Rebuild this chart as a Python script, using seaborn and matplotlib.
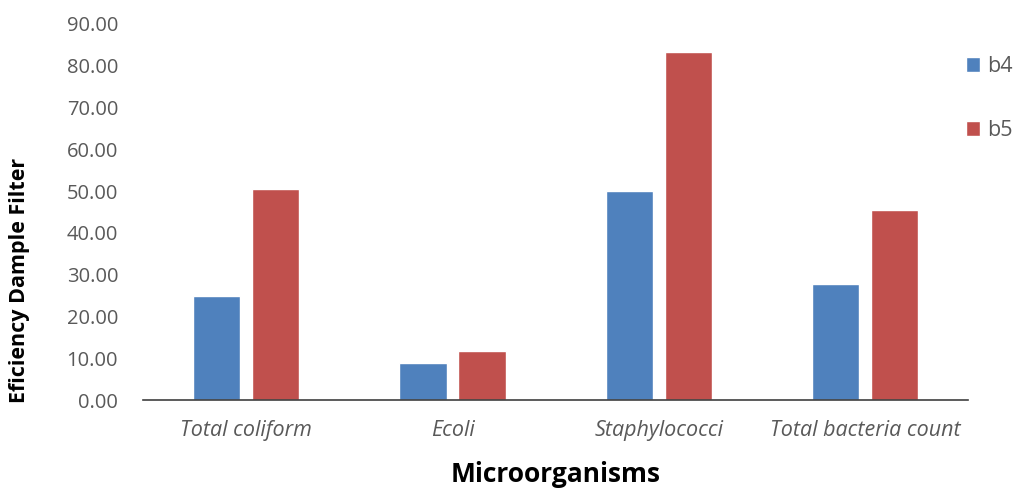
import matplotlib
matplotlib.use("Agg")
import matplotlib.pyplot as plt
import matplotlib.transforms as mtransforms
import seaborn as sns
import pandas as pd

categories = ["Total coliform", "Ecoli", "Staphylococci", "Total bacteria count"]
b4 = [25.0, 8.8, 50.1, 27.8]
b5 = [50.4, 11.7, 83.4, 45.5]
series_names = ["b4", "b5"]
yticks = [0, 10, 20, 30, 40, 50, 60, 70, 80, 90]

df = pd.DataFrame({
    "Microorganisms": categories * 2,
    "value": b4 + b5,
    "series": [series_names[0]] * 4 + [series_names[1]] * 4,
})

sns.set_style("white")
plt.rcParams["font.family"] = ["Open Sans", "DejaVu Sans"]

fig = plt.figure(figsize=(10.15, 4.88), dpi=100)
ax = fig.add_axes([0.141, 0.180, 0.813, 0.771])

sns.barplot(data=df, x="Microorganisms", y="value", hue="series",
            palette=["#4F81BD", "#C0504D"], width=0.573, gap=0.2,
            saturation=1, ax=ax, errorbar=None)

ax.set_ylim(0, 90)
ax.set_xlim(-0.5, 3.5)
ax.set_yticks(yticks)
ax.set_yticklabels([f"{v:.2f}" for v in yticks], color="#595959", fontsize=14.5)
ax.set_xticks(range(len(categories)))
ax.set_xticklabels(categories, color="#595959", fontsize=15.5, style="italic")
ax.tick_params(axis="y", length=0, pad=18)
ax.tick_params(axis="x", length=0, pad=14)

for s in ["top", "right", "left"]:
    ax.spines[s].set_visible(False)
ax.spines["bottom"].set_color("#404040")
ax.spines["bottom"].set_linewidth(1.2)

ax.set_xlabel("Microorganisms", fontsize=19, fontweight="bold", color="black")
ax.set_ylabel("Eficiency Dample Filter", fontsize=15.5, fontweight="bold", color="black")
ax.yaxis.label.set_verticalalignment("center")
ax.xaxis.label.set_verticalalignment("center")
xlab_tr = mtransforms.blended_transform_factory(ax.transAxes, fig.transFigure)
ax.xaxis.set_label_coords(0.5, 1 - 474 / 488, transform=xlab_tr)
ax.yaxis.set_label_coords(20 / 1015, 1 - 280 / 488, transform=fig.transFigure)

handles, labels = ax.get_legend_handles_labels()
ax.get_legend().remove()
fig.legend(handles, labels, loc="upper left", bbox_to_anchor=(966 / 1015, 1 - 56 / 488),
           frameon=False, fontsize=15.5, borderpad=0, borderaxespad=0,
           labelcolor="#595959", handlelength=0.65, handleheight=0.65,
           handletextpad=0.35, labelspacing=2.0)

fig.savefig("out.png", dpi=100)
